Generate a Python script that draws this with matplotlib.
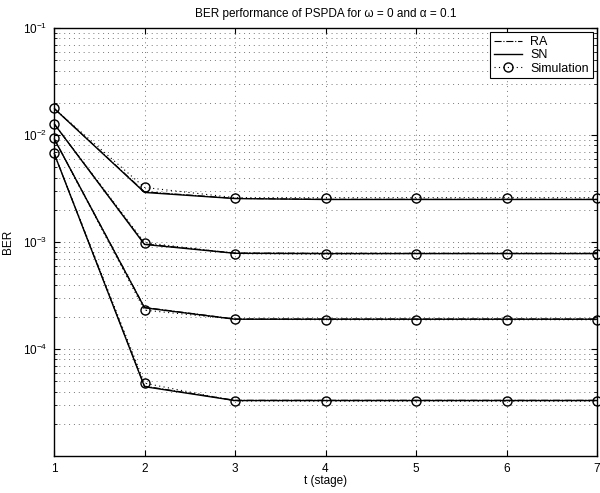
import matplotlib
matplotlib.use("Agg")
import matplotlib.pyplot as plt
from matplotlib.ticker import LogLocator, NullFormatter, FixedLocator

plt.rcParams['font.family'] = ['Liberation Sans', 'DejaVu Sans']
plt.rcParams['mathtext.fontset'] = 'custom'
plt.rcParams['mathtext.rm'] = 'Liberation Sans'
plt.rcParams['mathtext.it'] = 'Liberation Sans:italic'
plt.rcParams['mathtext.sf'] = 'Liberation Sans'

t = [1, 2, 3, 4, 5, 6, 7]

sn_1 = [0.0178, 2.91e-3, 2.55e-3, 2.5e-3, 2.5e-3, 2.5e-3, 2.5e-3]
sn_2 = [0.0128, 9.5e-4, 7.85e-4, 7.8e-4, 7.8e-4, 7.8e-4, 7.8e-4]
sn_3 = [0.0093, 2.43e-4, 1.9e-4, 1.9e-4, 1.9e-4, 1.9e-4, 1.9e-4]
sn_4 = [0.0068, 4.45e-5, 3.3e-5, 3.3e-5, 3.3e-5, 3.3e-5, 3.3e-5]

ra_1 = [0.0178, 2.95e-3, 2.56e-3, 2.51e-3, 2.51e-3, 2.51e-3, 2.51e-3]
ra_2 = [0.0128, 9.6e-4, 7.9e-4, 7.85e-4, 7.85e-4, 7.85e-4, 7.85e-4]
ra_3 = [0.0093, 2.45e-4, 1.91e-4, 1.91e-4, 1.91e-4, 1.91e-4, 1.91e-4]
ra_4 = [0.0068, 4.5e-5, 3.32e-5, 3.32e-5, 3.32e-5, 3.32e-5, 3.32e-5]

sim_1 = [0.0178, 3.24e-3, 2.6e-3, 2.6e-3, 2.6e-3, 2.6e-3, 2.6e-3]
sim_2 = [0.0128, 9.9e-4, 7.8e-4, 7.7e-4, 7.8e-4, 7.8e-4, 7.8e-4]
sim_3 = [0.0093, 2.31e-4, 1.9e-4, 1.88e-4, 1.88e-4, 1.88e-4, 1.88e-4]
sim_4 = [0.0068, 4.8e-5, 3.27e-5, 3.25e-5, 3.25e-5, 3.25e-5, 3.25e-5]

fig = plt.figure(figsize=(6.0, 4.93), dpi=100)
ax = fig.add_axes([0.09, 0.075, 0.905, 0.868])

ra_all = [ra_1, ra_2, ra_3, ra_4]
sn_all = [sn_1, sn_2, sn_3, sn_4]
sim_all = [sim_1, sim_2, sim_3, sim_4]

for i in range(4):
    ax.semilogy(t, ra_all[i], color='black', linestyle='-.', linewidth=0.8,
                label='RA' if i == 0 else None)
for i in range(4):
    ax.semilogy(t, sn_all[i], color='black', linestyle='-', linewidth=1.0,
                label='SN' if i == 0 else None)
for i in range(4):
    ax.semilogy(t, sim_all[i], color='black', linestyle=(0, (1, 3)), linewidth=0.8,
                marker='o', markersize=6.5, markerfacecolor='none',
                markeredgewidth=1.0, label='Simulation' if i == 0 else None,
                clip_on=False)

ax.set_xlim(1, 7)
ax.set_ylim(1e-5, 1e-1)
ax.xaxis.set_major_locator(FixedLocator(t))
ax.yaxis.set_major_locator(FixedLocator([1e-4, 1e-3, 1e-2, 1e-1]))
ax.set_yticklabels([r'$10^{-4}$', r'$10^{-3}$', r'$10^{-2}$', r'$10^{-1}$'])
ax.yaxis.set_minor_locator(LogLocator(base=10, subs=range(2, 10)))
ax.yaxis.set_minor_formatter(NullFormatter())

ax.grid(True, which='major', axis='both', color='#777777', linestyle=(0, (1, 4)), linewidth=0.7)
ax.grid(True, which='minor', axis='y', color='#777777', linestyle=(0, (1, 4)), linewidth=0.7)

ax.tick_params(which='both', direction='in', top=True, right=True, labelsize=8.5)
ax.tick_params(which='major', length=4, pad=5)
ax.tick_params(which='minor', length=2)
for s in ax.spines.values():
    s.set_linewidth(1.0)

ax.set_xlabel('t (stage)', fontsize=8.5, labelpad=0)
ax.set_ylabel('BER', fontsize=8.5, labelpad=6)
ax.set_title('BER performance of PSPDA for ω = 0 and α = 0.1', fontsize=8.5, pad=8)

leg = ax.legend(loc='upper right', fontsize=9, frameon=True, fancybox=False,
                edgecolor='black', framealpha=1, handlelength=2.2,
                borderaxespad=0.35, labelspacing=0.1, handletextpad=0.7,
                borderpad=0.3)
leg.get_frame().set_linewidth(0.8)

fig.savefig('out.png', dpi=100)
